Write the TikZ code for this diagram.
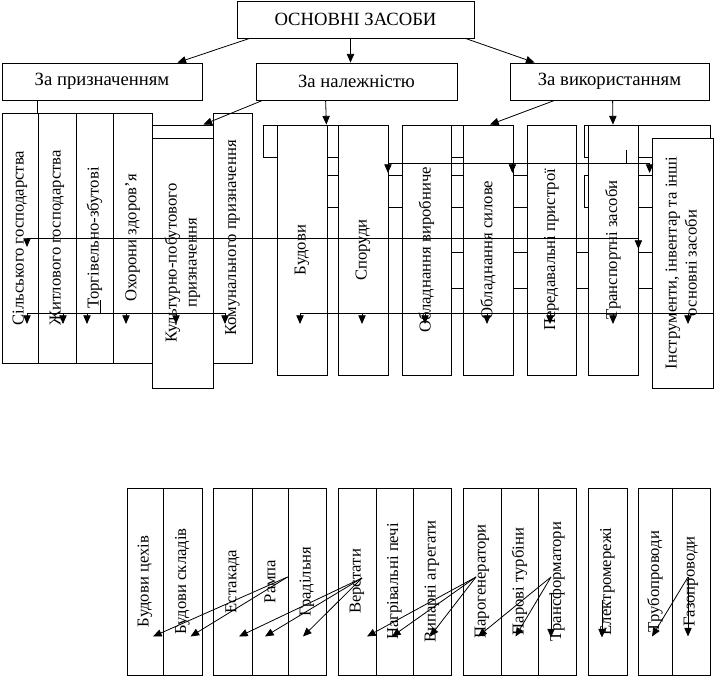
\documentclass[tikz,border=0pt]{standalone}
\usepackage{fontspec}
\usepackage{graphicx}
\setmainfont{Liberation Serif}
\usetikzlibrary{arrows.meta,calc}
\tikzset{sz/.style 2 args={minimum width=#1*0.75pt,minimum height=#2*0.75pt}}

\begin{document}
\begin{tikzpicture}[x=0.75pt,y=-0.75pt,>={Triangle[length=6.5pt,width=5.5pt]},line width=0.6pt]
    \tikzstyle{box}=[draw,fill=white,inner sep=0pt,font=\fontsize{14}{17}\selectfont]
    \tikzstyle{vbox}=[draw,fill=white,inner sep=0pt,font=\fontsize{12.5}{15}\selectfont]
    \tikzstyle{hid}=[draw,fill=white,inner sep=0pt]
    \useasboundingbox (0,0) rectangle (715,677);

    % top levels
    \node[box,sz={237}{37}] (title)  at (355.5,19.5) {ОСНОВНІ ЗАСОБИ};
    \node[box,sz={200}{37}] (prizn)  at (102,81.5)   {За призначенням};
    \node[box,sz={201}{37}] (nalezh) at (356.5,81.5) {За належністю};
    \node[box,sz={199}{37}] (vykor)  at (609.5,81.5) {За використанням};

    % boxes half hidden behind the columns
    \node[hid,sz={61}{13}]  (kulttop) at (182.5,131.5) {};
    \node[hid,sz={122}{32}] (row1a)   at (324,141)     {};
    \node[hid,sz={65}{32}]  (row1b)   at (477.5,141)   {};
    \node[hid,sz={126}{32}] (row1c)   at (647,141)     {};
    \node[hid,sz={270}{32}] (row2a)   at (435,191)     {};
    \node[hid,sz={116}{32}] (row2b)   at (642,191)     {};
    \node[hid,sz={249}{36}] (row3)    at (575.5,270)   {};

    % за призначенням
    \node[vbox,sz={36}{250}] (silske) at (20,238)    {\rotatebox{90}{Сільського господарства}};
    \node[vbox,sz={38}{250}] (zhytlo) at (57,238)    {\rotatebox{90}{Житлового господарства}};
    \node[vbox,sz={37}{250}] (torg)   at (94.5,238)  {\rotatebox{90}{Торгівельно-збутові}};
    \node[vbox,sz={39}{250}] (okhor)  at (132.5,238) {\rotatebox{90}{Охорони здоров’я}};
    \node[vbox,sz={61}{250}] (kult)   at (182.5,263) {\rotatebox{90}{\begin{tabular}{@{}c@{}}Культурно-побутового\\призначення\end{tabular}}};
    \node[vbox,sz={39}{250}] (komun)  at (232.5,238) {\rotatebox{90}{Комунального призначення}};

    % за використанням
    \node[vbox,sz={50}{250}] (budovy) at (302,250)   {\rotatebox{90}{Будови}};
    \node[vbox,sz={50}{250}] (sporud) at (363,250)   {\rotatebox{90}{Споруди}};
    \node[vbox,sz={49}{250}] (obvyr)  at (426.5,250) {\rotatebox{90}{Обладнання виробниче}};
    \node[vbox,sz={50}{250}] (obsyl)  at (488,250)   {\rotatebox{90}{Обладнання силове}};
    \node[vbox,sz={49}{250}] (pered)  at (551.5,250) {\rotatebox{90}{Передавальні пристрої}};
    \node[vbox,sz={50}{250}] (transp) at (613,250)   {\rotatebox{90}{Транспортні засоби}};
    \node[vbox,sz={61}{250}] (instr)  at (682.5,263) {\rotatebox{90}{\begin{tabular}{@{}c@{}}Інструменти, інвентар та інші\\основні засоби\end{tabular}}};

    % bottom row
    \node[vbox,sz={36}{187}] (ceh)    at (145,581.5)   {\rotatebox{90}{Будови цехів}};
    \node[vbox,sz={39}{187}] (sklad)  at (182.5,581.5) {\rotatebox{90}{Будови складів}};
    \node[vbox,sz={39}{187}] (estak)  at (232.5,581.5) {\rotatebox{90}{Естакада}};
    \node[vbox,sz={36}{187}] (rampa)  at (270,581.5)   {\rotatebox{90}{Рампа}};
    \node[vbox,sz={38}{187}] (grad)   at (307,581.5)   {\rotatebox{90}{Градільня}};
    \node[vbox,sz={38}{187}] (verst)  at (357,581.5)   {\rotatebox{90}{Верстати}};
    \node[vbox,sz={37}{187}] (nagr)   at (394.5,581.5) {\rotatebox{90}{Нагрівальні печі}};
    \node[vbox,sz={38}{187}] (vypar)  at (432,581.5)   {\rotatebox{90}{Випарні агрегати}};
    \node[vbox,sz={38}{187}] (paroh)  at (482,581.5)   {\rotatebox{90}{Парогенератори}};
    \node[vbox,sz={37}{187}] (turb)   at (519.5,581.5) {\rotatebox{90}{Парові турбіни}};
    \node[vbox,sz={38}{187}] (transf) at (557,581.5)   {\rotatebox{90}{Трансформатори}};
    \node[vbox,sz={39}{187}] (elek)   at (607.5,581.5) {\rotatebox{90}{Електромережі}};
    \node[vbox,sz={34}{187}] (trub)   at (655,581.5)   {\rotatebox{90}{Трубопроводи}};
    \node[vbox,sz={38}{187}] (gaz)    at (691,581.5)   {\rotatebox{90}{Газопроводи}};

    % links from the top
    \draw[->] ($(title.south west)+(13,0)$) -- ($(prizn.north east)+(-25,0)$);
    \draw[->] ($(title.south)+(-5,0)$) -- ($(nalezh.north)+(-6,0)$);
    \draw[->] ($(title.south east)+(-9,0)$) -- ($(vykor.north west)+(25,0)$);
    \draw ($(prizn.south west)+(36,0)$) -- (zhytlo.north west);
    \draw[->] ($(nalezh.south west)+(7,0)$) -- ($(kulttop.north east)+(-10,0)$);
    \draw[->] ($(nalezh.south west)+(70,0)$) -- ($(budovy.north east)+(-1,0)$);
    \draw[->] ($(vykor.south west)+(45,0)$) -- ($(obsyl.north)+(2,0)$);
    \draw[->] ($(vykor.south west)+(103,0)$) -- (transp.north);

    % long lines across the columns
    \coordinate (busA) at (27,238);
    \draw[<->] ($(busA)+(0,9)$) -- (busA) -- (transp.east |- busA) -- ($(transp.east |- busA)+(0,11)$);

    \coordinate (busM) at (388,163);
    \draw[<->] ($(busM)+(0,10)$) -- (busM) -- ($(instr.west |- busM)+(-2,0)$) -- ($(instr.west |- busM)+(-2,10)$);
    \draw[->] ($(obsyl.east |- busM)+(-1,0)$) -- ++(0,10);
    \draw ($(busM)+(238,-13)$) -- ($(busM)+(238,0)$);

    \coordinate (busL) at (27,313);
    \draw (busL) -- ($(komun.center |- busL)+(-7.5,0)$);
    \draw ($(busL)+(73,-13)$) -- ($(busL)+(73,0)$);
    \foreach \n/\d in {silske/7,zhytlo/6,torg/-7.5,okhor/-6.5,kult/-6.5,komun/-7.5}
        \draw[->] ($(\n.center |- busL)+(\d,0)$) -- ++(0,11);

    \coordinate (busR) at (300,313);
    \draw (busR) -- (instr.east |- busR);
    \foreach \n/\d in {budovy/-2,sporud/-1,obvyr/-1.5,obsyl/-1,pered/-1.5,transp/0,instr/5.5}
        \draw[->] ($(\n.center |- busR)+(\d,0)$) -- ++(0,11);

    % fans in the bottom row
    \coordinate (srcA) at ($(grad.west)+(0,-4.5)$);
    \foreach \n in {ceh,sklad}
        \draw[->] (srcA) -- ($(\n.center)+(8,55)$);
    \coordinate (srcC) at ($(verst.center)+(5,-3.5)$);
    \foreach \n/\d in {estak/6.5,rampa/-5,grad/-4}
        \draw[->] (srcC) -- ($(\n.center)+(\d,55)$);
    \coordinate (srcD) at ($(paroh.center)+(-6,-4.5)$);
    \foreach \n/\d in {verst/10,nagr/-2.5,vypar/-2}
        \draw[->] (srcD) -- ($(\n.center)+(\d,55)$);
    \coordinate (srcE) at ($(transf.center)+(-6,-4.5)$);
    \foreach \n in {paroh,turb}
        \draw[->] (srcE) -- ($(\n.center)+(-4,55)$);
    \draw[->] ($(transf.center)+(-6,11.5)$) -- ($(transf.center)+(-6,56)$);
    \draw[->] ($(elek.center)+(-5.5,18.5)$) -- ($(elek.center)+(-5.5,56)$);
    \coordinate (srcF) at ($(gaz.center)+(-3,-4.5)$);
    \foreach \n in {trub,gaz}
        \draw[->] (srcF) -- ($(\n.center)+(-3,55)$);
\end{tikzpicture}
\end{document}
